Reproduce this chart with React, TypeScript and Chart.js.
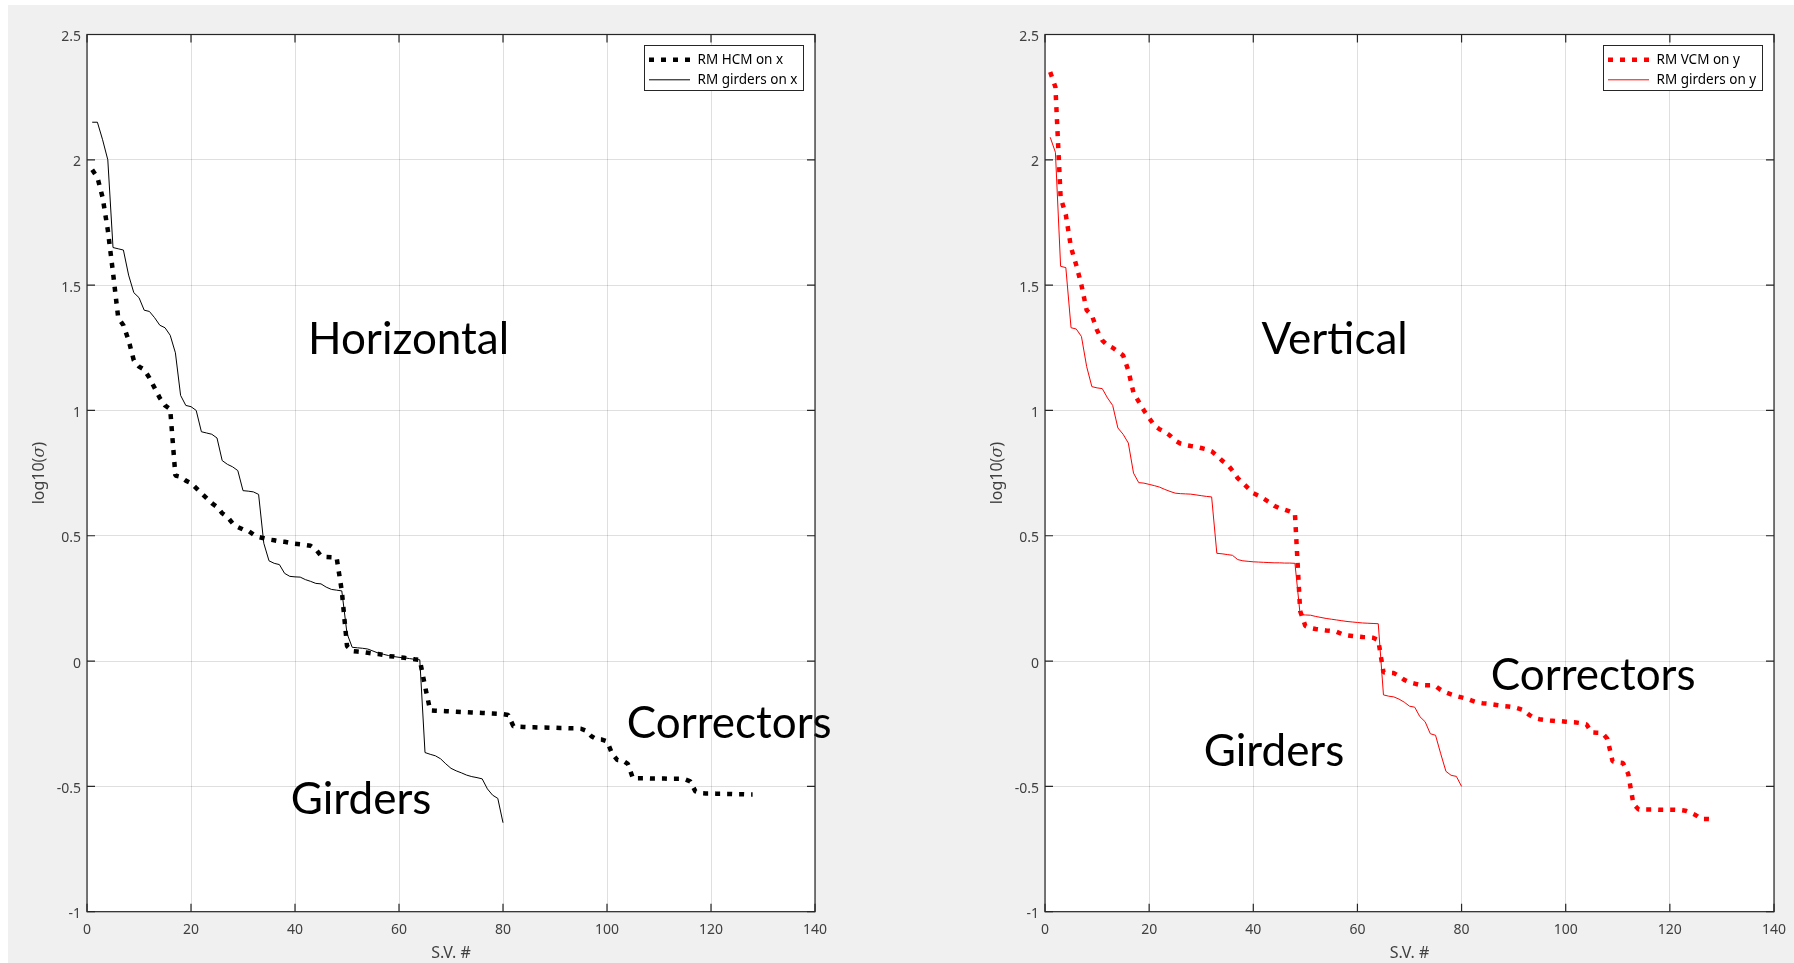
import React, { useEffect, useRef } from "react";
import { Chart, registerables } from "chart.js";

Chart.register(...registerables);

// log10 of the singular values of the response matrices (S.V. index starts at 1)
const HCM_ON_X = [
  1.96, 1.93, 1.85, 1.72, 1.55, 1.37, 1.34, 1.28, 1.2, 1.175,
  1.163, 1.13, 1.09, 1.05, 1.02, 1.005, 0.74, 0.735, 0.72, 0.71,
  0.69, 0.67, 0.65, 0.63, 0.615, 0.59, 0.575, 0.55, 0.535, 0.525,
  0.52, 0.505, 0.495, 0.49, 0.485, 0.482, 0.478, 0.476, 0.472, 0.468,
  0.466, 0.463, 0.46, 0.446, 0.42, 0.415, 0.414, 0.413, 0.28, 0.06,
  0.04, 0.038, 0.036, 0.033, 0.03, 0.028, 0.025, 0.02, 0.018, 0.015,
  0.013, 0.01, 0.007, 0.005, -0.1, -0.197, -0.198, -0.199, -0.2, -0.201,
  -0.202, -0.203, -0.204, -0.205, -0.206, -0.207, -0.208, -0.209, -0.21, -0.212,
  -0.215, -0.26, -0.262, -0.263, -0.264, -0.264, -0.265, -0.265, -0.266, -0.266,
  -0.267, -0.267, -0.268, -0.268, -0.27, -0.278, -0.3, -0.312, -0.313, -0.32,
  -0.37, -0.395, -0.396, -0.41, -0.468, -0.468, -0.468, -0.468, -0.469, -0.469,
  -0.469, -0.47, -0.47, -0.47, -0.472, -0.48, -0.52, -0.527, -0.528, -0.528,
  -0.529, -0.529, -0.53, -0.53, -0.531, -0.531, -0.532, -0.532,
];

const GIRDERS_ON_X = [
  2.15, 2.15, 2.08, 2.0, 1.65, 1.645, 1.64, 1.54, 1.47, 1.45,
  1.4, 1.395, 1.37, 1.34, 1.33, 1.3, 1.23, 1.06, 1.02, 1.015,
  1.0, 0.915, 0.91, 0.905, 0.89, 0.8, 0.785, 0.775, 0.76, 0.68,
  0.678, 0.675, 0.665, 0.47, 0.4, 0.39, 0.385, 0.35, 0.338, 0.336,
  0.335, 0.325, 0.318, 0.31, 0.308, 0.295, 0.286, 0.283, 0.28, 0.11,
  0.055, 0.053, 0.051, 0.048, 0.04, 0.032, 0.027, 0.022, 0.018, 0.015,
  0.013, 0.01, 0.007, 0.005, -0.365, -0.372, -0.378, -0.39, -0.41, -0.428,
  -0.438, -0.446, -0.455, -0.461, -0.465, -0.47, -0.51, -0.535, -0.548, -0.645,
];

const VCM_ON_Y = [
  2.35, 2.29, 1.85, 1.78, 1.65, 1.58, 1.5, 1.4, 1.38, 1.32,
  1.28, 1.26, 1.25, 1.235, 1.22, 1.16, 1.07, 1.035, 1.0, 0.97,
  0.94, 0.925, 0.915, 0.9, 0.88, 0.868, 0.862, 0.858, 0.855, 0.85,
  0.845, 0.837, 0.82, 0.8, 0.785, 0.76, 0.73, 0.71, 0.69, 0.67,
  0.66, 0.648, 0.635, 0.62, 0.61, 0.604, 0.597, 0.589, 0.2, 0.14,
  0.132, 0.128, 0.125, 0.122, 0.12, 0.117, 0.108, 0.103, 0.1, 0.098,
  0.096, 0.095, 0.093, 0.084, -0.045, -0.047, -0.048, -0.06, -0.075, -0.085,
  -0.09, -0.095, -0.096, -0.096, -0.1, -0.115, -0.125, -0.133, -0.14, -0.145,
  -0.15, -0.158, -0.165, -0.168, -0.17, -0.173, -0.176, -0.179, -0.181, -0.184,
  -0.19, -0.197, -0.215, -0.228, -0.232, -0.235, -0.237, -0.239, -0.24, -0.242,
  -0.244, -0.245, -0.248, -0.253, -0.285, -0.286, -0.287, -0.31, -0.4, -0.405,
  -0.407, -0.45, -0.57, -0.592, -0.592, -0.592, -0.592, -0.593, -0.593, -0.593,
  -0.593, -0.594, -0.597, -0.605, -0.615, -0.63, -0.63, -0.631,
];

const GIRDERS_ON_Y = [
  2.09, 2.03, 1.575, 1.57, 1.33, 1.325, 1.295, 1.175, 1.095, 1.09,
  1.087, 1.05, 1.02, 0.93, 0.905, 0.87, 0.75, 0.712, 0.71, 0.705,
  0.7, 0.694, 0.685, 0.677, 0.67, 0.668, 0.667, 0.666, 0.663, 0.66,
  0.657, 0.655, 0.43, 0.428, 0.425, 0.422, 0.405, 0.4, 0.398, 0.396,
  0.395, 0.394, 0.393, 0.392, 0.392, 0.391, 0.391, 0.39, 0.185, 0.184,
  0.183, 0.178, 0.174, 0.17, 0.167, 0.164, 0.161, 0.158, 0.156, 0.154,
  0.152, 0.151, 0.15, 0.149, -0.135, -0.14, -0.143, -0.152, -0.164, -0.18,
  -0.184, -0.222, -0.242, -0.29, -0.296, -0.37, -0.44, -0.456, -0.46, -0.5,
];

const X_TICKS = [0, 20, 40, 60, 80, 100, 120, 140];
const X_TICK_LABELS = ["0", "20", "40", "60", "80", "100", "120", "140"];
const Y_TICKS = [-1, -0.5, 0, 0.5, 1, 1.5, 2, 2.5];
const Y_TICK_LABELS = ["-1", "-0.5", "0", "0.5", "1", "1.5", "2", "2.5"];

const X_TITLE = "S.V. #";
const Y_TITLE = ["log10(", "\u03c3", ")"];

const TICK_FONT = "14px 'Noto Sans'";
const TITLE_FONT = "16px 'Noto Sans'";
const TITLE_ITALIC_FONT = "italic 16px 'DejaVu Serif'";
const LEGEND_FONT = "13.5px 'Noto Sans'";
const NOTE_FONT = "44px Lato";
const AXIS_COLOR = "#262626";
const TICK_TEXT = "#404040";
const DOT_DASH = [5, 7];

type Series = { label: string; values: number[]; color: string; dotted: boolean };
type Note = { text: string; x: number; y: number };
type Panel = {
  left: number;
  width: number;
  padRight: number;
  yAxisWidth: number;
  series: Series[];
  notes: Note[];
};

const CANVAS_H = 963;
const PAD_TOP = 34.5;
const X_AXIS_H = 51.3;

const PANELS: Panel[] = [
  {
    left: 0,
    width: 900,
    padRight: 85,
    yAxisWidth: 87,
    series: [
      { label: "RM HCM on x", values: HCM_ON_X, color: "#000000", dotted: true },
      { label: "RM girders on x", values: GIRDERS_ON_X, color: "#000000", dotted: false },
    ],
    notes: [
      { text: "Horizontal", x: 42.5, y: 1.225 },
      { text: "Girders", x: 39.2, y: -0.61 },
      { text: "Correctors", x: 103.8, y: -0.305 },
    ],
  },
  {
    left: 900,
    width: 894,
    padRight: 20,
    yAxisWidth: 145,
    series: [
      { label: "RM VCM on y", values: VCM_ON_Y, color: "#ff0000", dotted: true },
      { label: "RM girders on y", values: GIRDERS_ON_Y, color: "#ff0000", dotted: false },
    ],
    notes: [
      { text: "Vertical", x: 41.6, y: 1.225 },
      { text: "Girders", x: 30.5, y: -0.418 },
      { text: "Correctors", x: 85.6, y: -0.115 },
    ],
  },
];

function axesPlugin(panel: Panel) {
  return {
    id: "matlabAxes",
    beforeDraw(chart: any) {
      const { ctx, chartArea: a } = chart;
      ctx.save();
      ctx.fillStyle = "#ffffff";
      ctx.fillRect(a.left, a.top, a.right - a.left, a.bottom - a.top);
      ctx.restore();
    },
    afterDatasetsDraw(chart: any) {
      const { ctx, scales } = chart;
      ctx.save();
      ctx.font = NOTE_FONT;
      ctx.fillStyle = "#000000";
      ctx.textAlign = "left";
      ctx.textBaseline = "alphabetic";
      for (const n of panel.notes) {
        ctx.fillText(n.text, scales.x.getPixelForValue(n.x), scales.y.getPixelForValue(n.y));
      }
      ctx.restore();
    },
    afterDraw(chart: any) {
      const { ctx, chartArea: a, scales } = chart;
      const xs = scales.x;
      const ys = scales.y;
      ctx.save();

      // axes box with inward tick marks on all four sides
      ctx.strokeStyle = AXIS_COLOR;
      ctx.lineWidth = 1.2;
      ctx.strokeRect(a.left, a.top, a.right - a.left, a.bottom - a.top);
      ctx.beginPath();
      const tl = 8;
      X_TICKS.forEach((v) => {
        const px = xs.getPixelForValue(v);
        ctx.moveTo(px, a.bottom);
        ctx.lineTo(px, a.bottom - tl);
        ctx.moveTo(px, a.top);
        ctx.lineTo(px, a.top + tl);
      });
      Y_TICKS.forEach((v) => {
        const py = ys.getPixelForValue(v);
        ctx.moveTo(a.left, py);
        ctx.lineTo(a.left + tl, py);
        ctx.moveTo(a.right, py);
        ctx.lineTo(a.right - tl, py);
      });
      ctx.stroke();

      // tick labels
      ctx.font = TICK_FONT;
      ctx.fillStyle = TICK_TEXT;
      ctx.textBaseline = "alphabetic";
      ctx.textAlign = "center";
      X_TICKS.forEach((v, i) => {
        ctx.fillText(X_TICK_LABELS[i], xs.getPixelForValue(v), a.bottom + 22.3);
      });
      ctx.textAlign = "right";
      Y_TICKS.forEach((v, i) => {
        ctx.fillText(Y_TICK_LABELS[i], a.left - 6, ys.getPixelForValue(v) + 6.5);
      });

      // axis titles
      ctx.font = TITLE_FONT;
      ctx.textAlign = "center";
      ctx.fillText(X_TITLE, (a.left + a.right) / 2, a.bottom + 46.6);

      ctx.save();
      ctx.translate(a.left - 43, (a.top + a.bottom) / 2);
      ctx.rotate(-Math.PI / 2);
      ctx.textAlign = "left";
      const fonts = [TITLE_FONT, TITLE_ITALIC_FONT, TITLE_FONT];
      const widths = Y_TITLE.map((t, i) => {
        ctx.font = fonts[i];
        return ctx.measureText(t).width;
      });
      let cx = -widths.reduce((s, w) => s + w, 0) / 2;
      Y_TITLE.forEach((t, i) => {
        ctx.font = fonts[i];
        ctx.fillText(t, cx, 0);
        cx += widths[i];
      });
      ctx.restore();

      // legend box, top-right inside the axes
      ctx.font = LEGEND_FONT;
      const tw = Math.max(...panel.series.map((s) => ctx.measureText(s.label).width));
      const w = Math.round(53 + tw + 6);
      const h = 45;
      const bx = Math.round(a.right - 12.5 - w) + 0.5;
      const by = Math.round(a.top + 10.5) + 0.5;
      ctx.fillStyle = "#ffffff";
      ctx.fillRect(bx, by, w, h);
      ctx.strokeStyle = AXIS_COLOR;
      ctx.lineWidth = 1;
      ctx.setLineDash([]);
      ctx.strokeRect(bx, by, w, h);
      panel.series.forEach((s, i) => {
        const ly = by + 14.3 + i * 20;
        ctx.beginPath();
        ctx.strokeStyle = s.color;
        ctx.lineWidth = s.dotted ? 4.5 : 1;
        ctx.setLineDash(s.dotted ? DOT_DASH : []);
        ctx.moveTo(bx + 4.5, ly);
        ctx.lineTo(bx + 45.5, ly);
        ctx.stroke();
        ctx.setLineDash([]);
        ctx.fillStyle = "#000000";
        ctx.textAlign = "left";
        ctx.textBaseline = "middle";
        ctx.fillText(s.label, bx + 53, ly);
      });

      ctx.restore();
    },
  };
}

function buildConfig(panel: Panel): any {
  return {
    type: "line",
    data: {
      datasets: panel.series.map((s) => ({
        label: s.label,
        data: s.values.map((y, i) => ({ x: i + 1, y })),
        borderColor: s.color,
        borderWidth: s.dotted ? 4.5 : 1,
        borderDash: s.dotted ? DOT_DASH : [],
        borderJoinStyle: "bevel",
        pointRadius: 0,
        pointHoverRadius: 0,
        tension: 0,
        fill: false,
        order: s.dotted ? 1 : 0,
      })),
    },
    options: {
      responsive: false,
      animation: false,
      devicePixelRatio: 1,
      events: [],
      layout: { padding: { top: PAD_TOP, right: panel.padRight, left: 0, bottom: 0 } },
      plugins: { legend: { display: false }, tooltip: { enabled: false } },
      scales: {
        x: {
          type: "linear",
          min: 0,
          max: 140,
          afterBuildTicks: (scale: any) => {
            scale.ticks = X_TICKS.map((value) => ({ value }));
          },
          afterFit: (scale: any) => {
            scale.height = X_AXIS_H;
          },
          ticks: { display: false },
          grid: { color: "rgba(38,38,38,0.15)", lineWidth: 1, drawTicks: false },
          border: { display: false },
        },
        y: {
          type: "linear",
          min: -1,
          max: 2.5,
          afterBuildTicks: (scale: any) => {
            scale.ticks = Y_TICKS.map((value) => ({ value }));
          },
          afterFit: (scale: any) => {
            scale.width = panel.yAxisWidth;
          },
          ticks: { display: false },
          grid: { color: "rgba(38,38,38,0.15)", lineWidth: 1, drawTicks: false },
          border: { display: false },
        },
      },
    },
    plugins: [axesPlugin(panel)],
  };
}

function PanelChart({ panel }: { panel: Panel }) {
  const ref = useRef<HTMLCanvasElement>(null);
  useEffect(() => {
    const chart = new Chart(ref.current as HTMLCanvasElement, buildConfig(panel));
    return () => chart.destroy();
  }, [panel]);
  return (
    <canvas
      ref={ref}
      width={panel.width}
      height={CANVAS_H}
      style={{ position: "absolute", left: panel.left, top: 0, width: panel.width, height: CANVAS_H }}
    />
  );
}

export default function App() {
  return (
    <div
      style={{
        position: "fixed",
        left: 0,
        top: 0,
        width: 1794,
        height: 963,
        overflow: "hidden",
        background: "#ffffff",
      }}
    >
      <div
        style={{
          position: "absolute",
          left: 8,
          top: 5,
          width: 1786,
          height: 958,
          background: "#f0f0f0",
        }}
      />
      {PANELS.map((p, i) => (
        <PanelChart key={i} panel={p} />
      ))}
    </div>
  );
}
